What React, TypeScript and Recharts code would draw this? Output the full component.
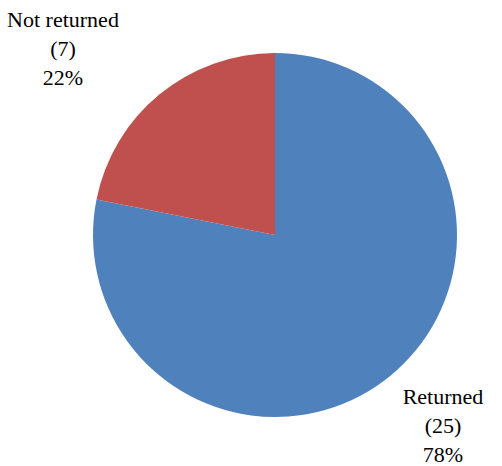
import { PieChart, Pie, Cell } from "recharts";

const categories = ["Returned", "Not returned"];
const counts = [25, 7];
const percents = ["78%", "22%"];
const colors = ["#4F81BD", "#C0504D"];

// where each label block sits, relative to the pie centre
const labelOffsets = [
  { dx: 168, dy: 198 },
  { dx: -212, dy: -179 },
];

const data = categories.map((name, i) => ({
  name,
  value: counts[i],
  pct: percents[i],
}));

const renderLabel = (props: any) => {
  const { cx, cy, index } = props;
  const d = data[index];
  const off = labelOffsets[index];
  const x = cx + off.dx;
  const y = cy + off.dy;
  const lines = [d.name, `(${d.value})`, d.pct];
  return (
    <g>
      {lines.map((t, k) => (
        <text
          key={k}
          x={x}
          y={y + (k - 1) * 29}
          textAnchor="middle"
          fill="#000"
          style={{ fontFamily: '"Liberation Serif", "DejaVu Serif", serif', fontSize: 22 }}
        >
          {t}
        </text>
      ))}
    </g>
  );
};

export default function App() {
  return (
    <div style={{ position: "absolute", left: 0, top: 0, background: "#fff" }}>
      <PieChart width={502} height={466} margin={{ top: 0, right: 0, bottom: 0, left: 0 }}>
        <Pie
          data={data}
          dataKey="value"
          nameKey="name"
          cx={275}
          cy={235}
          outerRadius={182}
          startAngle={90}
          endAngle={-270}
          stroke="none"
          label={renderLabel}
          labelLine={false}
          isAnimationActive={false}
        >
          {data.map((d, i) => (
            <Cell key={d.name} fill={colors[i]} />
          ))}
        </Pie>
      </PieChart>
    </div>
  );
}
